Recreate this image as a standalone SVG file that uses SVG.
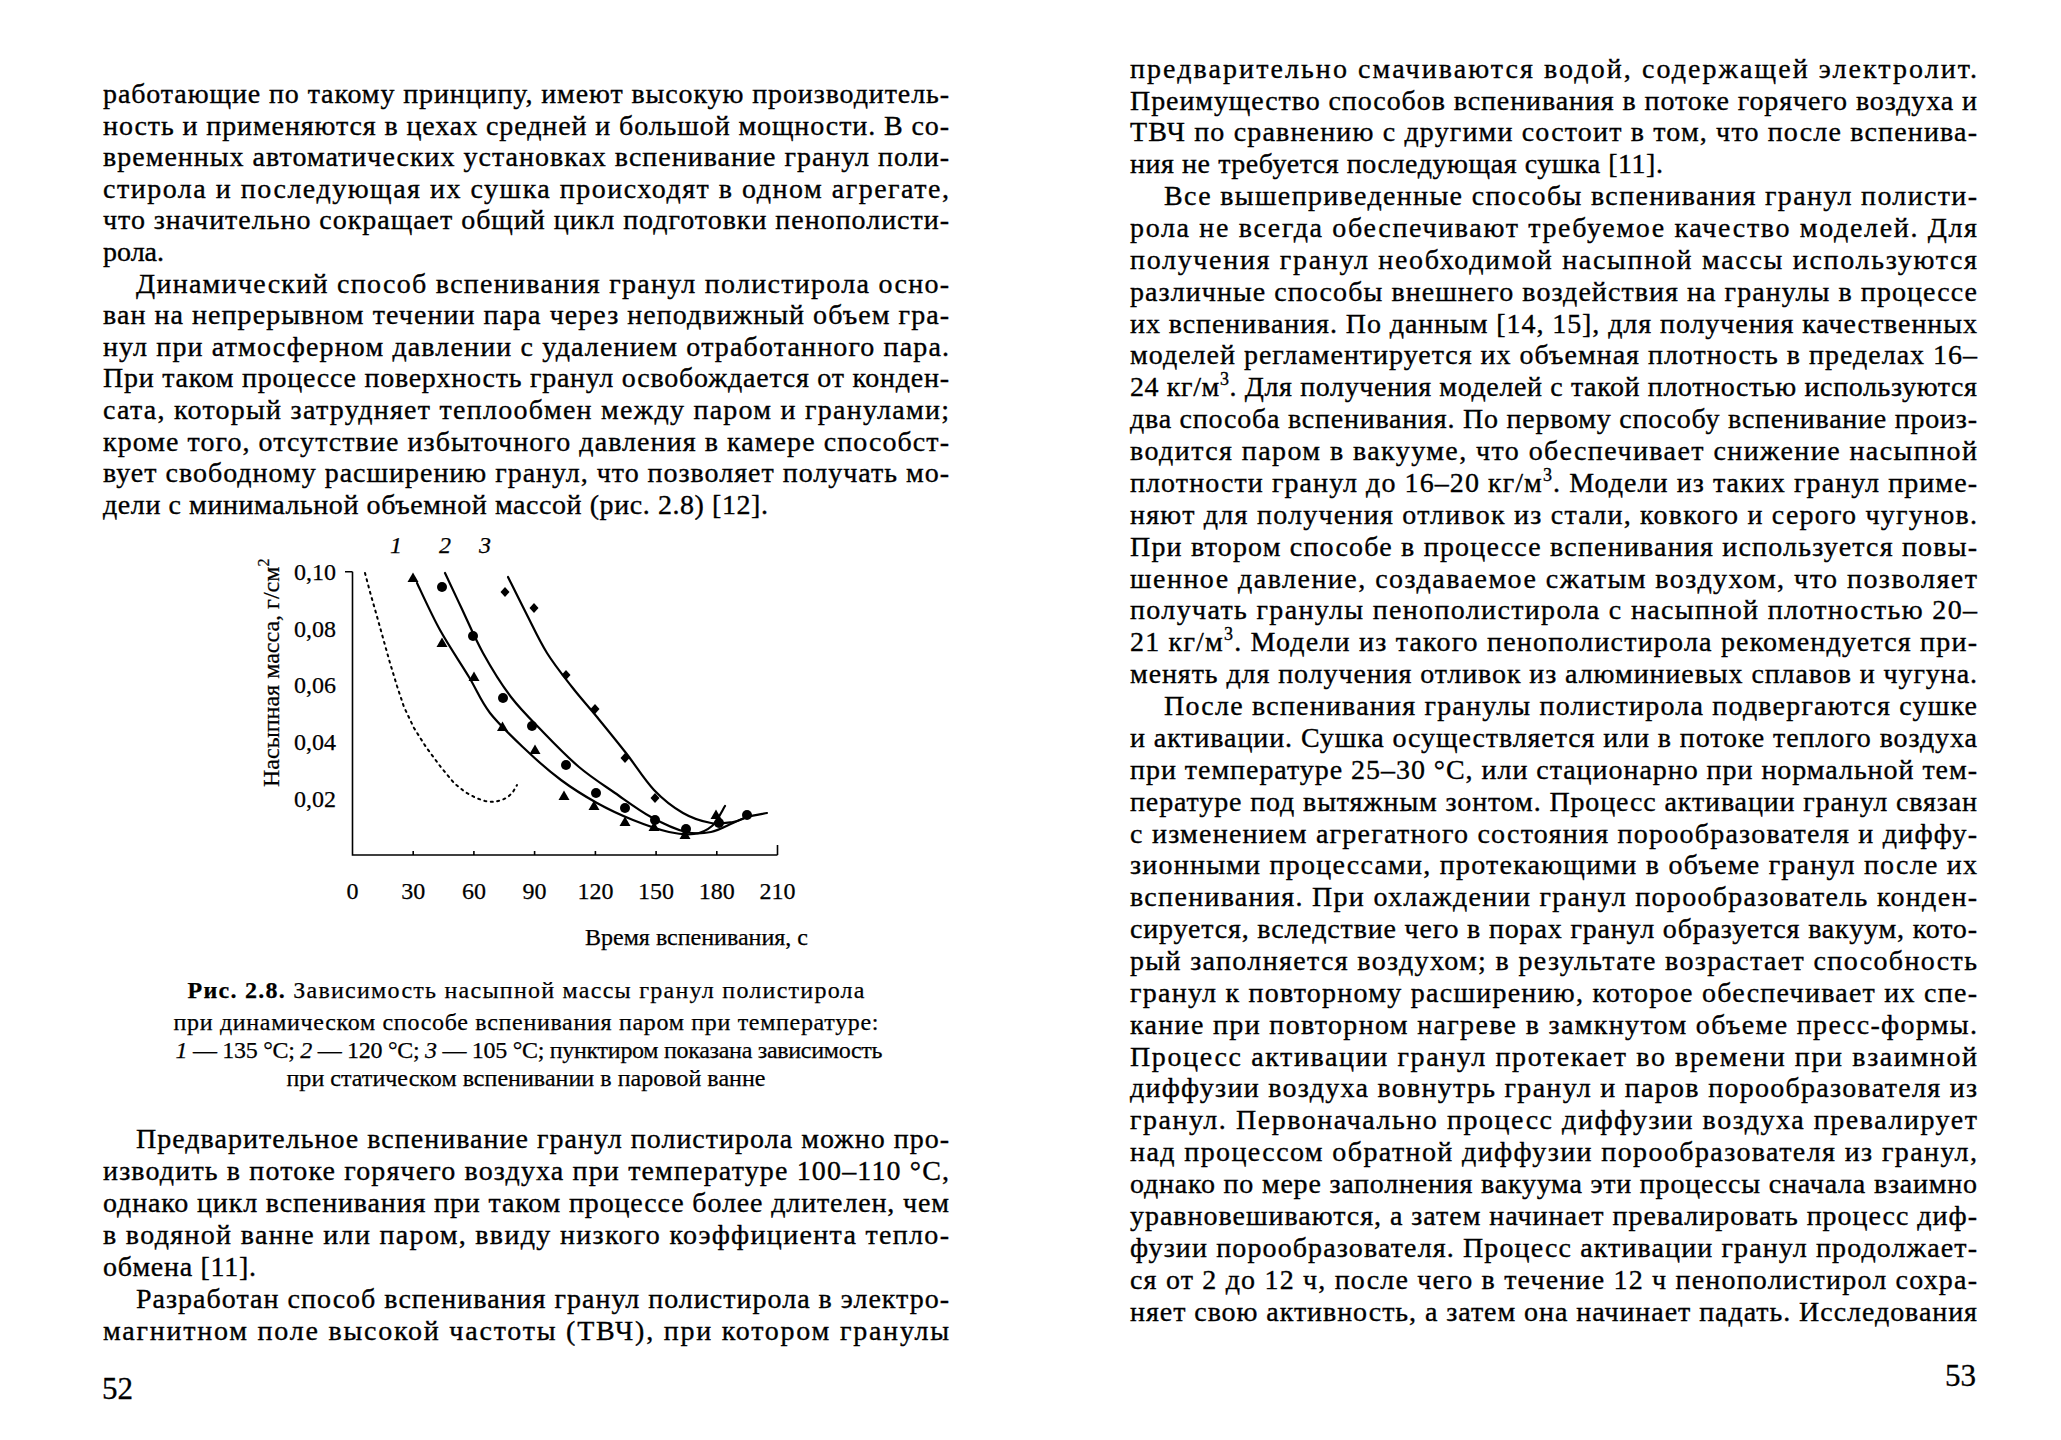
<svg xmlns="http://www.w3.org/2000/svg" xmlns:xlink="http://www.w3.org/1999/xlink" width="2061" height="1440" viewBox="0 0 2061 1440">
<style>
text{font-family:"Liberation Serif","Times New Roman",serif;fill:#000}
.b{font-size:28px;stroke:#000;stroke-width:0.35}
.c{font-size:24px;stroke:#000;stroke-width:0.25}
.t{font-size:24px;stroke:#000;stroke-width:0.25}
.i{font-style:italic}
.pn{font-size:31px;stroke:#000;stroke-width:0.3}
.ax{stroke:#000;stroke-width:1.6;fill:none}
.cv{stroke:#000;stroke-width:2.2;fill:none;stroke-linecap:round;stroke-linejoin:round}
.dt{stroke:#000;stroke-width:2;fill:none;stroke-dasharray:2 4.5;stroke-linecap:round}
</style>
<defs>
<path id="tri" d="M0,-5.5 L5.5,4 L-5.5,4Z" fill="#000"/>
<circle id="dot" r="5" fill="#000"/>
<path id="dia" d="M0,-5 L4.5,0 L0,5 L-4.5,0Z" fill="#000"/>
</defs>
<rect width="2061" height="1440" fill="#fff"/>

<g id="left-top" class="b">
<text x="103" y="103" textLength="846" lengthAdjust="spacing">работающие по такому принципу, имеют высокую производитель-</text>
<text x="103" y="134.6" textLength="846" lengthAdjust="spacing">ность и применяются в цехах средней и большой мощности. В со-</text>
<text x="103" y="166.2" textLength="846" lengthAdjust="spacing">временных автоматических установках вспенивание гранул поли-</text>
<text x="103" y="197.8" textLength="846" lengthAdjust="spacing">стирола и последующая их сушка происходят в одном агрегате,</text>
<text x="103" y="229.4" textLength="846" lengthAdjust="spacing">что значительно сокращает общий цикл подготовки пенополисти-</text>
<text x="103" y="261">рола.</text>
<text x="136" y="292.6" textLength="813" lengthAdjust="spacing">Динамический способ вспенивания гранул полистирола осно-</text>
<text x="103" y="324.2" textLength="846" lengthAdjust="spacing">ван на непрерывном течении пара через неподвижный объем гра-</text>
<text x="103" y="355.8" textLength="846" lengthAdjust="spacing">нул при атмосферном давлении с удалением отработанного пара.</text>
<text x="103" y="387.4" textLength="846" lengthAdjust="spacing">При таком процессе поверхность гранул освобождается от конден-</text>
<text x="103" y="419" textLength="846" lengthAdjust="spacing">сата, который затрудняет теплообмен между паром и гранулами;</text>
<text x="103" y="450.6" textLength="846" lengthAdjust="spacing">кроме того, отсутствие избыточного давления в камере способст-</text>
<text x="103" y="482.2" textLength="846" lengthAdjust="spacing">вует свободному расширению гранул, что позволяет получать мо-</text>
<text x="103" y="513.8" textLength="665" lengthAdjust="spacing">дели с минимальной объемной массой (рис. 2.8) [12].</text>
</g>

<g id="chart">
<g id="axes">
<path class="ax" d="M352.5,571.7 V855 H777.5 M345,571.7 H352.5 M413.2,855 v-4 M473.9,855 v-4 M534.6,855 v-4 M595.4,855 v-4 M656.1,855 v-4 M716.8,855 v-4 M777.5,855 v-10"/>
</g>
<g id="y-ticks" class="t" text-anchor="end">
<text x="336" y="580">0,10</text>
<text x="336" y="636.5">0,08</text>
<text x="336" y="693">0,06</text>
<text x="336" y="750">0,04</text>
<text x="336" y="806.5">0,02</text>
</g>
<g id="x-ticks" class="t" text-anchor="middle">
<text x="352.5" y="899">0</text>
<text x="413.2" y="899">30</text>
<text x="473.9" y="899">60</text>
<text x="534.6" y="899">90</text>
<text x="595.4" y="899">120</text>
<text x="656.1" y="899">150</text>
<text x="716.8" y="899">180</text>
<text x="777.5" y="899">210</text>
</g>
<text id="x-title" class="t" x="585" y="945" textLength="223" lengthAdjust="spacing">Время вспенивания, с</text>
<text id="y-title" class="t" transform="translate(279,787) rotate(-90)" x="0" y="0">Насыпная масса, г/см<tspan dy="-10" font-size="16">2</tspan></text>
<g id="curve-labels" class="t i" text-anchor="middle" font-size="22">
<text x="396" y="553">1</text>
<text x="445" y="553">2</text>
<text x="485" y="553">3</text>
</g>
<g id="curves">
<polyline class="dt" points="365,573 370,592 376,613 383,638 390,663 397,686 404,707 414,728 426,747 440,766 454,783 465,792 476,798 485,801 494,802 502,800 508,797 513,792 517,785"/>
<path class="cv" d="M417,583 C420.8,590.8 431.3,614.3 440,630 C448.7,645.7 460.7,663.2 469,677 C477.3,690.8 480.5,700.8 490,713 C499.5,725.2 514.2,738.8 526,750 C537.8,761.2 549.2,771.2 561,780 C572.8,788.8 585,796.3 597,803 C609,809.7 621,815.2 633,820 C645,824.8 658.8,829.7 669,832 C679.2,834.3 686.8,835 694,834 C701.2,833 706.8,830.5 712,826 C717.2,821.5 722.8,809.3 725,806"/>
<path class="cv" d="M445,573 C447.7,578.7 454.7,593.7 461,607 C467.3,620.3 474.7,638 483,653 C491.3,668 500.8,683.7 511,697 C521.2,710.3 532.7,721.3 544,733 C555.3,744.7 567.2,757 579,767 C590.8,777 603,784.7 615,793 C627,801.3 639.2,810.5 651,817 C662.8,823.5 676,829.5 686,832 C696,834.5 703.2,833.5 711,832 C718.8,830.5 727,825.5 733,823 C739,820.5 741.3,818.7 747,817 C752.7,815.3 763.7,813.7 767,813"/>
<path class="cv" d="M508,577 C511,583 519.5,600.3 526,613 C532.5,625.7 539.3,640.7 547,653 C554.7,665.3 563.7,676.3 572,687 C580.3,697.7 588,706 597,717 C606,728 616.5,740.8 626,753 C635.5,765.2 644.5,780 654,790 C663.5,800 673.5,807.5 683,813 C692.5,818.5 702.7,821.5 711,823 C719.3,824.5 727.3,822.8 733,822 C738.7,821.2 743,818.7 745,818"/>
</g>
<g id="markers">
<use xlink:href="#tri" href="#tri" x="413" y="578"/>
<use xlink:href="#tri" href="#tri" x="442" y="643"/>
<use xlink:href="#tri" href="#tri" x="474" y="677"/>
<use xlink:href="#tri" href="#tri" x="502.5" y="727"/>
<use xlink:href="#tri" href="#tri" x="535" y="750"/>
<use xlink:href="#tri" href="#tri" x="564" y="796"/>
<use xlink:href="#tri" href="#tri" x="594" y="806"/>
<use xlink:href="#tri" href="#tri" x="625" y="822"/>
<use xlink:href="#tri" href="#tri" x="654" y="827"/>
<use xlink:href="#tri" href="#tri" x="685" y="835"/>
<use xlink:href="#tri" href="#tri" x="716" y="815"/>
<use xlink:href="#dot" href="#dot" x="442" y="587"/>
<use xlink:href="#dot" href="#dot" x="473" y="636"/>
<use xlink:href="#dot" href="#dot" x="503" y="698"/>
<use xlink:href="#dot" href="#dot" x="532" y="726"/>
<use xlink:href="#dot" href="#dot" x="566" y="765"/>
<use xlink:href="#dot" href="#dot" x="596" y="793"/>
<use xlink:href="#dot" href="#dot" x="625" y="808"/>
<use xlink:href="#dot" href="#dot" x="655" y="820"/>
<use xlink:href="#dot" href="#dot" x="686" y="829"/>
<use xlink:href="#dot" href="#dot" x="719" y="823"/>
<use xlink:href="#dot" href="#dot" x="747" y="815"/>
<use xlink:href="#dia" href="#dia" x="505" y="592"/>
<use xlink:href="#dia" href="#dia" x="534" y="608"/>
<use xlink:href="#dia" href="#dia" x="566" y="675"/>
<use xlink:href="#dia" href="#dia" x="595" y="709"/>
<use xlink:href="#dia" href="#dia" x="625" y="758"/>
<use xlink:href="#dia" href="#dia" x="655" y="798"/>
</g>
</g>

<g id="caption" class="c" text-anchor="middle">
<text x="526" y="998" textLength="677" lengthAdjust="spacing"><tspan font-weight="bold">Рис. 2.8.</tspan> Зависимость насыпной массы гранул полистирола</text>
<text x="526" y="1030" textLength="705" lengthAdjust="spacing">при динамическом способе вспенивания паром при температуре:</text>
<text x="529" y="1058" textLength="707" lengthAdjust="spacing"><tspan class="i">1</tspan> — 135 °С; <tspan class="i">2</tspan> — 120 °С; <tspan class="i">3</tspan> — 105 °С; пунктиром показана зависимость</text>
<text x="526" y="1086" textLength="479" lengthAdjust="spacing">при статическом вспенивании в паровой ванне</text>
</g>

<g id="left-bottom" class="b">
<text x="136" y="1148" textLength="813" lengthAdjust="spacing">Предварительное вспенивание гранул полистирола можно про-</text>
<text x="103" y="1180" textLength="846" lengthAdjust="spacing">изводить в потоке горячего воздуха при температуре 100–110 °С,</text>
<text x="103" y="1212" textLength="846" lengthAdjust="spacing">однако цикл вспенивания при таком процессе более длителен, чем</text>
<text x="103" y="1244" textLength="846" lengthAdjust="spacing">в водяной ванне или паром, ввиду низкого коэффициента тепло-</text>
<text x="103" y="1276" textLength="153" lengthAdjust="spacing">обмена [11].</text>
<text x="136" y="1308" textLength="813" lengthAdjust="spacing">Разработан способ вспенивания гранул полистирола в электро-</text>
<text x="103" y="1340" textLength="846" lengthAdjust="spacing">магнитном поле высокой частоты (ТВЧ), при котором гранулы</text>
</g>
<text id="page-52" class="pn" x="102" y="1399">52</text>

<g id="right-column" class="b">
<text x="1130" y="77.6" textLength="847" lengthAdjust="spacing">предварительно смачиваются водой, содержащей электролит.</text>
<text x="1130" y="109.5" textLength="847" lengthAdjust="spacing">Преимущество способов вспенивания в потоке горячего воздуха и</text>
<text x="1130" y="141.3" textLength="847" lengthAdjust="spacing">ТВЧ по сравнению с другими состоит в том, что после вспенива-</text>
<text x="1130" y="173.2" textLength="533" lengthAdjust="spacing">ния не требуется последующая сушка [11].</text>
<text x="1164" y="205.1" textLength="813" lengthAdjust="spacing">Все вышеприведенные способы вспенивания гранул полисти-</text>
<text x="1130" y="236.9" textLength="847" lengthAdjust="spacing">рола не всегда обеспечивают требуемое качество моделей. Для</text>
<text x="1130" y="268.8" textLength="847" lengthAdjust="spacing">получения гранул необходимой насыпной массы используются</text>
<text x="1130" y="300.7" textLength="847" lengthAdjust="spacing">различные способы внешнего воздействия на гранулы в процессе</text>
<text x="1130" y="332.6" textLength="847" lengthAdjust="spacing">их вспенивания. По данным [14, 15], для получения качественных</text>
<text x="1130" y="364.4" textLength="847" lengthAdjust="spacing">моделей регламентируется их объемная плотность в пределах 16–</text>
<text x="1130" y="396.3" textLength="847" lengthAdjust="spacing">24 кг/м<tspan dy="-11" font-size="18">3</tspan><tspan dy="11">. Для получения моделей с такой плотностью используются</tspan></text>
<text x="1130" y="428.2" textLength="847" lengthAdjust="spacing">два способа вспенивания. По первому способу вспенивание произ-</text>
<text x="1130" y="460" textLength="847" lengthAdjust="spacing">водится паром в вакууме, что обеспечивает снижение насыпной</text>
<text x="1130" y="491.9" textLength="847" lengthAdjust="spacing">плотности гранул до 16–20 кг/м<tspan dy="-11" font-size="18">3</tspan><tspan dy="11">. Модели из таких гранул приме-</tspan></text>
<text x="1130" y="523.8" textLength="847" lengthAdjust="spacing">няют для получения отливок из стали, ковкого и серого чугунов.</text>
<text x="1130" y="555.6" textLength="847" lengthAdjust="spacing">При втором способе в процессе вспенивания используется повы-</text>
<text x="1130" y="587.5" textLength="847" lengthAdjust="spacing">шенное давление, создаваемое сжатым воздухом, что позволяет</text>
<text x="1130" y="619.4" textLength="847" lengthAdjust="spacing">получать гранулы пенополистирола с насыпной плотностью 20–</text>
<text x="1130" y="651.2" textLength="847" lengthAdjust="spacing">21 кг/м<tspan dy="-11" font-size="18">3</tspan><tspan dy="11">. Модели из такого пенополистирола рекомендуется при-</tspan></text>
<text x="1130" y="683.1" textLength="847" lengthAdjust="spacing">менять для получения отливок из алюминиевых сплавов и чугуна.</text>
<text x="1164" y="715" textLength="813" lengthAdjust="spacing">После вспенивания гранулы полистирола подвергаются сушке</text>
<text x="1130" y="746.9" textLength="847" lengthAdjust="spacing">и активации. Сушка осуществляется или в потоке теплого воздуха</text>
<text x="1130" y="778.7" textLength="847" lengthAdjust="spacing">при температуре 25–30 °С, или стационарно при нормальной тем-</text>
<text x="1130" y="810.6" textLength="847" lengthAdjust="spacing">пературе под вытяжным зонтом. Процесс активации гранул связан</text>
<text x="1130" y="842.5" textLength="847" lengthAdjust="spacing">с изменением агрегатного состояния порообразователя и диффу-</text>
<text x="1130" y="874.3" textLength="847" lengthAdjust="spacing">зионными процессами, протекающими в объеме гранул после их</text>
<text x="1130" y="906.2" textLength="847" lengthAdjust="spacing">вспенивания. При охлаждении гранул порообразователь конден-</text>
<text x="1130" y="938.1" textLength="847" lengthAdjust="spacing">сируется, вследствие чего в порах гранул образуется вакуум, кото-</text>
<text x="1130" y="969.9" textLength="847" lengthAdjust="spacing">рый заполняется воздухом; в результате возрастает способность</text>
<text x="1130" y="1001.8" textLength="847" lengthAdjust="spacing">гранул к повторному расширению, которое обеспечивает их спе-</text>
<text x="1130" y="1033.7" textLength="847" lengthAdjust="spacing">кание при повторном нагреве в замкнутом объеме пресс-формы.</text>
<text x="1130" y="1065.5" textLength="847" lengthAdjust="spacing">Процесс активации гранул протекает во времени при взаимной</text>
<text x="1130" y="1097.4" textLength="847" lengthAdjust="spacing">диффузии воздуха вовнутрь гранул и паров порообразователя из</text>
<text x="1130" y="1129.3" textLength="847" lengthAdjust="spacing">гранул. Первоначально процесс диффузии воздуха превалирует</text>
<text x="1130" y="1161.2" textLength="847" lengthAdjust="spacing">над процессом обратной диффузии порообразователя из гранул,</text>
<text x="1130" y="1193" textLength="847" lengthAdjust="spacing">однако по мере заполнения вакуума эти процессы сначала взаимно</text>
<text x="1130" y="1224.9" textLength="847" lengthAdjust="spacing">уравновешиваются, а затем начинает превалировать процесс диф-</text>
<text x="1130" y="1256.8" textLength="847" lengthAdjust="spacing">фузии порообразователя. Процесс активации гранул продолжает-</text>
<text x="1130" y="1288.6" textLength="847" lengthAdjust="spacing">ся от 2 до 12 ч, после чего в течение 12 ч пенополистирол сохра-</text>
<text x="1130" y="1320.5" textLength="847" lengthAdjust="spacing">няет свою активность, а затем она начинает падать. Исследования</text>
</g>
<text id="page-53" class="pn" x="1976" y="1386" text-anchor="end">53</text>
</svg>
